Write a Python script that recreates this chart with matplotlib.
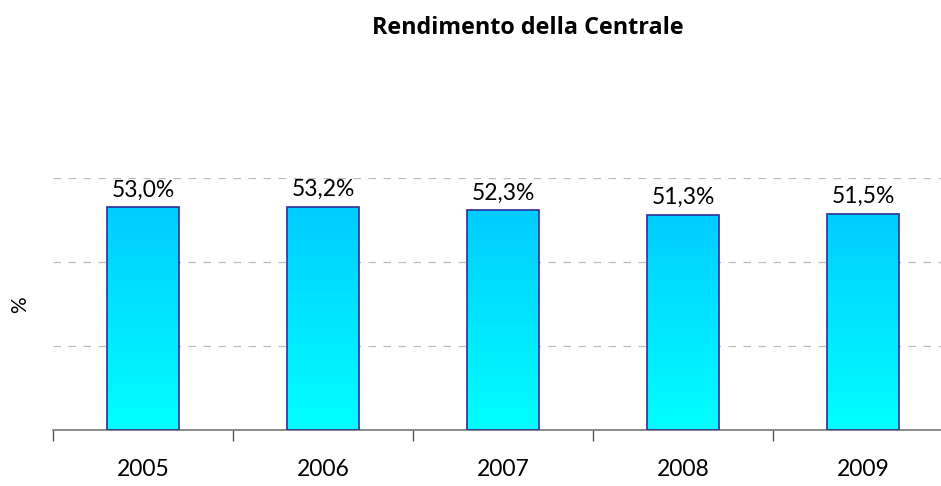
import matplotlib
matplotlib.use("Agg")
import matplotlib.pyplot as plt
import numpy as np
from matplotlib.colors import LinearSegmentedColormap

years = ["2005", "2006", "2007", "2008", "2009"]
values = [53.0, 53.2, 52.3, 51.3, 51.5]
labels = ["53,0%", "53,2%", "52,3%", "51,3%", "51,5%"]

plt.rcParams['font.family'] = ['Lato', 'DejaVu Sans']

W, H = 941, 486
fig = plt.figure(figsize=(W/100, H/100), dpi=100)
left, right, bottom, top = 53, 953, 430, 178
ax = fig.add_axes([left/W, 1 - bottom/H, (right-left)/W, (bottom-top)/H])

x = np.arange(len(years))
bars = ax.bar(x, values, width=0.4, color='none', edgecolor='#2E2E9A', linewidth=1.2, zorder=3)

cmap = LinearSegmentedColormap.from_list('g', ['#00FFFF', '#00CCFF'])
grad = np.linspace(0, 1, 256).reshape(-1, 1)
for b in bars:
    x0, y0 = b.get_x(), b.get_y()
    w, h = b.get_width(), b.get_height()
    im = ax.imshow(grad, cmap=cmap, aspect='auto', origin='lower',
                   extent=[x0, x0 + w, y0, y0 + h], zorder=2)
    im.set_clip_path(b)

ax.set_xlim(-0.5, len(years) - 0.5)
ax.set_ylim(0, 60)
ax.set_yticks([20, 40, 60])
ax.yaxis.grid(True, linestyle=(0, (6, 6)), color='#BBBBBB', linewidth=0.9, zorder=0)
ax.tick_params(axis='y', left=False, labelleft=False)
ax.set_xticks(x)
ax.set_xticklabels(years, fontsize=16.5)
ax.set_xticks(np.arange(len(years) + 1) - 0.5, minor=True)
ax.tick_params(axis='x', which='major', length=0, pad=21)
ax.tick_params(axis='x', which='minor', length=8, color='#555555', width=1, direction='out')
for s in ['top', 'right', 'left']:
    ax.spines[s].set_visible(False)
ax.spines['bottom'].set_color('#777777')
ax.spines['bottom'].set_linewidth(1.2)

for xi, v, lab in zip(x, values, labels):
    ax.annotate(lab, (xi, v), xytext=(0, 5), textcoords='offset points',
                ha='center', va='bottom', fontsize=16.5, zorder=4)

fig.text(528/W, 1 - 28/H, 'Rendimento della Centrale', ha='center', va='center',
         fontsize=16.8, fontweight='bold', family=['Open Sans', 'DejaVu Sans'])
fig.text(20/W, 1 - 305/H, '%', ha='center', va='center', rotation=90, fontsize=15)

fig.savefig('out.png', dpi=100)
